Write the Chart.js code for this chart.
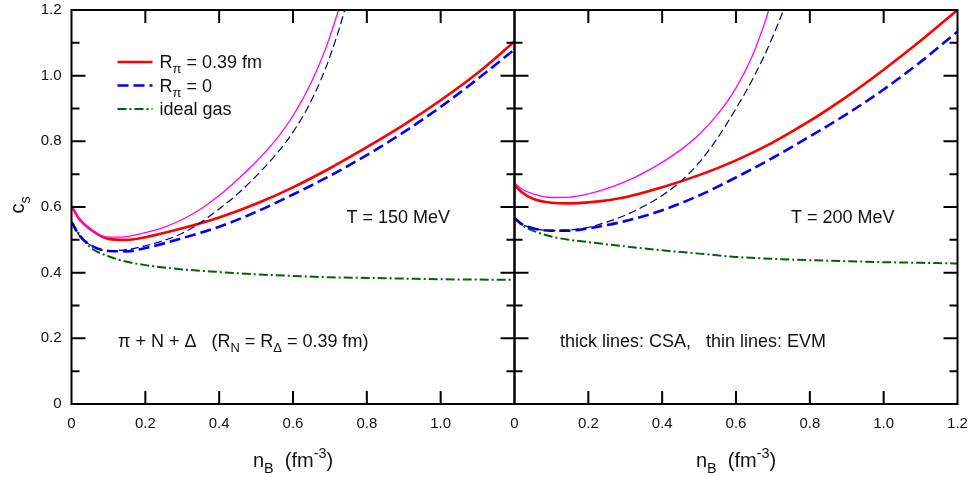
<!DOCTYPE html>
<html>
<head>
<meta charset="utf-8">
<script src="https://cdn.jsdelivr.net/npm/chart.js@4/dist/chart.umd.min.js"></script>
<style>
  html, body { margin: 0; padding: 0; background: #fff; }
  #wrap { position: relative; width: 972px; height: 477px; overflow: hidden; }
  canvas { position: absolute; top: 0; }
  #left { left: 0; }
  #right { left: 510px; }
</style>
</head>
<body>
<div id="wrap">
  <canvas id="left" width="520" height="477"></canvas>
  <canvas id="right" width="462" height="477"></canvas>
</div>
<script>
// Baryon density grids (fm^-3)
const nGrid  = [0, 0.02, 0.05, 0.1, 0.15, 0.2, 0.3, 0.4, 0.5, 0.6, 0.7, 0.8, 0.9, 1.0, 1.1, 1.2];
const nSteep = [0, 0.02, 0.05, 0.1, 0.15, 0.2, 0.25, 0.3, 0.35, 0.4, 0.45, 0.5, 0.55, 0.6, 0.65, 0.7, 0.75, 0.8];

// Tick values
const xTicks = [0, 0.2, 0.4, 0.6, 0.8, 1.0, 1.2];
const yTicks = [0, 0.2, 0.4, 0.6, 0.8, 1.0, 1.2];
const yMinorTicks = [0.1, 0.3, 0.5, 0.7, 0.9, 1.1];

// Speed of sound, T = 150 MeV
const csaR039_T150 = [0.603, 0.565, 0.533, 0.503, 0.500, 0.508, 0.535, 0.568, 0.61, 0.66, 0.718, 0.782, 0.85, 0.925, 1.008, 1.104];
const csaR0_T150   = [0.555, 0.515, 0.485, 0.466, 0.465, 0.475, 0.505, 0.54, 0.585, 0.638, 0.695, 0.758, 0.828, 0.905, 0.99, 1.08];
const ideal_T150   = [0.555, 0.52, 0.478, 0.45, 0.433, 0.423, 0.41, 0.402, 0.395, 0.39, 0.386, 0.384, 0.382, 0.38, 0.379, 0.378];
const evmR039_T150 = [0.603, 0.565, 0.533, 0.508, 0.51, 0.522, 0.538, 0.562, 0.594, 0.635, 0.684, 0.738, 0.8, 0.878, 0.981, 1.119, 1.312, 1.60];
const evmR0_T150   = [0.555, 0.515, 0.485, 0.467, 0.47, 0.482, 0.498, 0.52, 0.553, 0.594, 0.64, 0.694, 0.755, 0.828, 0.925, 1.058, 1.245, 1.525];

// Speed of sound, T = 200 MeV
const csaR039_T200 = [0.667, 0.645, 0.625, 0.613, 0.611, 0.614, 0.63, 0.66, 0.697, 0.742, 0.797, 0.862, 0.936, 1.018, 1.106, 1.2];
const csaR0_T200   = [0.566, 0.548, 0.535, 0.528, 0.528, 0.535, 0.557, 0.59, 0.635, 0.69, 0.75, 0.815, 0.883, 0.958, 1.042, 1.134];
const ideal_T200   = [0.566, 0.545, 0.528, 0.51, 0.50, 0.493, 0.48, 0.468, 0.458, 0.448, 0.442, 0.438, 0.435, 0.432, 0.43, 0.428];
const evmR039_T200 = [0.674, 0.655, 0.64, 0.629, 0.63, 0.64, 0.656, 0.677, 0.704, 0.736, 0.774, 0.821, 0.882, 0.963, 1.076, 1.246, 1.53, 2.1];
const evmR0_T200   = [0.566, 0.548, 0.535, 0.528, 0.53, 0.538, 0.554, 0.575, 0.602, 0.635, 0.678, 0.735, 0.81, 0.9, 1.0, 1.12, 1.268, 1.46];

const FONT = '"Liberation Sans", Arial, sans-serif';
const INK = '#111';

const STYLE = {
  csa039: { color: '#ff0000', width: 2.6, dash: [] },
  csa0:   { color: '#0000ff', width: 2.6, dash: [11, 5] },
  ideal:  { color: '#006400', width: 2.0, dash: [9, 3, 2, 3] },
  evm039: { color: '#ff00ff', width: 1.3, dash: [] },
  evm0:   { color: '#000080', width: 1.2, dash: [8, 4] }
};

function pts(xs, ys) { return xs.map((x, i) => ({ x: x, y: ys[i] })); }

function ds(label, xs, ys, st) {
  return {
    label: label, data: pts(xs, ys),
    borderColor: st.color, borderWidth: st.width, borderDash: st.dash,
    pointRadius: 0, fill: false, cubicInterpolationMode: 'monotone', clip: 0
  };
}

// Draw a string made of plain / subscript / superscript pieces
function richText(ctx, parts, x, y, size, align) {
  ctx.save();
  ctx.fillStyle = INK;
  ctx.textBaseline = 'alphabetic';
  const items = parts.map(p => Array.isArray(p) ? { t: p[0], s: p[1] } : { t: p, s: null });
  const widths = items.map(it => {
    ctx.font = (it.s ? size * 0.72 : size) + 'px ' + FONT;
    return ctx.measureText(it.t).width;
  });
  const total = widths.reduce((a, b) => a + b, 0);
  let cx = align === 'center' ? x - total / 2 : align === 'right' ? x - total : x;
  items.forEach((it, i) => {
    ctx.font = (it.s ? size * 0.72 : size) + 'px ' + FONT;
    const dy = it.s === 'sub' ? size * 0.28 : it.s === 'sup' ? -size * 0.45 : 0;
    ctx.fillText(it.t, cx, y + dy);
    cx += widths[i];
  });
  ctx.restore();
}

// Frame with inward ticks on all four sides, plus titles and notes
const framePlugin = {
  id: 'frame',
  afterDraw(chart) {
    const { ctx, chartArea: a, scales: { x, y } } = chart;
    ctx.save();
    ctx.strokeStyle = '#000';
    ctx.lineWidth = 2;
    ctx.beginPath();
    xTicks.forEach(v => {
      const px = x.getPixelForValue(v);
      if (px <= a.left + 1 || px >= a.right - 1) return;
      ctx.moveTo(px, a.bottom); ctx.lineTo(px, a.bottom - 13);
      ctx.moveTo(px, a.top); ctx.lineTo(px, a.top + 13);
    });
    yTicks.concat(yMinorTicks).forEach(v => {
      const py = y.getPixelForValue(v);
      if (py <= a.top + 1 || py >= a.bottom - 1) return;
      const len = yMinorTicks.includes(v) ? 8 : 14;
      ctx.moveTo(a.left, py); ctx.lineTo(a.left + len, py);
      ctx.moveTo(a.right, py); ctx.lineTo(a.right - len, py);
    });
    ctx.stroke();
    ctx.strokeRect(a.left, a.top, a.right - a.left, a.bottom - a.top);
    ctx.restore();

    const opts = chart.options.plugins.frame || {};
    const cxm = (a.left + a.right) / 2;
    richText(ctx, ['n', ['B', 'sub'], '  (fm', ['-3', 'sup'], ')'], cxm, 467, 20, 'center');
    (opts.notes || []).forEach(n => {
      richText(ctx, n.parts, x.getPixelForValue(n.x), y.getPixelForValue(n.y), n.size, n.align);
    });
    if (opts.yTitle) {
      ctx.save();
      ctx.translate(24, 205);
      ctx.rotate(-Math.PI / 2);
      richText(ctx, ['c', ['s', 'sub']], 0, 0, 20, 'center');
      ctx.restore();
    }
    if (opts.legend) {
      const rows = [
        { st: STYLE.csa039, parts: ['R', ['\u03c0', 'sub'], ' = 0.39 fm'] },
        { st: STYLE.csa0,   parts: ['R', ['\u03c0', 'sub'], ' = 0'] },
        { st: STYLE.ideal,  parts: ['ideal gas'] }
      ];
      rows.forEach((r, i) => {
        const ly = a.top + 52 + i * 23.5;
        ctx.save();
        ctx.strokeStyle = r.st.color;
        ctx.lineWidth = r.st.width;
        ctx.setLineDash(r.st.dash);
        ctx.beginPath();
        ctx.moveTo(a.left + 46, ly);
        ctx.lineTo(a.left + 81, ly);
        ctx.stroke();
        ctx.restore();
        richText(ctx, r.parts, a.left + 88, ly + 6, 18, 'left');
      });
    }
  }
};

function fmt(v) { return v === 0 ? '0' : v.toFixed(1); }

function panel(id, sets, cfg) {
  return new Chart(document.getElementById(id), {
    type: 'line',
    data: { datasets: sets },
    plugins: [framePlugin],
    options: {
      responsive: false,
      animation: false,
      devicePixelRatio: 1,
      layout: { padding: cfg.padding },
      plugins: {
        legend: { display: false },
        tooltip: { enabled: false },
        frame: cfg.frame
      },
      scales: {
        x: {
          type: 'linear', min: 0, max: 1.2,
          grid: { display: false, drawTicks: false },
          border: { display: false },
          afterBuildTicks: s => { s.ticks = xTicks.map(v => ({ value: v })); },
          afterFit: s => {
            s.height = 73;
            s.paddingLeft = 0; s.paddingRight = 0; s.paddingTop = 0; s.paddingBottom = 0;
          },
          ticks: {
            padding: 11, color: INK, maxRotation: 0, autoSkip: false,
            font: { family: FONT, size: 15 },
            callback: v => (cfg.hideLastX && v === 1.2) ? '' : fmt(v)
          }
        },
        y: {
          type: 'linear', min: 0, max: 1.2,
          display: cfg.showY,
          grid: { display: false, drawTicks: false },
          border: { display: false },
          afterBuildTicks: s => { s.ticks = yTicks.map(v => ({ value: v })); },
          afterFit: s => {
            s.width = cfg.showY ? 71.5 : 0;
            s.paddingLeft = 0; s.paddingRight = 0; s.paddingTop = 0; s.paddingBottom = 0;
          },
          ticks: {
            padding: 10, color: INK, autoSkip: false,
            font: { family: FONT, size: 15 },
            callback: v => fmt(v)
          }
        }
      }
    }
  });
}

panel('left', [
  ds('EVM R=0.39', nSteep, evmR039_T150, STYLE.evm039),
  ds('EVM R=0', nSteep, evmR0_T150, STYLE.evm0),
  ds('CSA R=0.39', nGrid, csaR039_T150, STYLE.csa039),
  ds('CSA R=0', nGrid, csaR0_T150, STYLE.csa0),
  ds('ideal gas', nGrid, ideal_T150, STYLE.ideal)
], {
  padding: { top: 10, right: 5.5, left: 0, bottom: 0 },
  showY: true,
  hideLastX: true,
  frame: {
    yTitle: true,
    legend: true,
    notes: [
      { parts: ['T = 150 MeV'], x: 0.885, y: 0.551, size: 18, align: 'center' },
      { parts: ['\u03c0 + N + \u0394   (R', ['N', 'sub'], ' = R', ['\u0394', 'sub'], ' = 0.39 fm)'], x: 0.126, y: 0.174, size: 18, align: 'left' }
    ]
  }
});

panel('right', [
  ds('EVM R=0.39', nSteep, evmR039_T200, STYLE.evm039),
  ds('EVM R=0', nSteep, evmR0_T200, STYLE.evm0),
  ds('CSA R=0.39', nGrid, csaR039_T200, STYLE.csa039),
  ds('CSA R=0', nGrid, csaR0_T200, STYLE.csa0),
  ds('ideal gas', nGrid, ideal_T200, STYLE.ideal)
], {
  padding: { top: 10, right: 14.5, left: 4.5, bottom: 0 },
  showY: false,
  hideLastX: false,
  frame: {
    notes: [
      { parts: ['T = 200 MeV'], x: 0.889, y: 0.551, size: 18, align: 'center' },
      { parts: ['thick lines: CSA,   thin lines: EVM'], x: 0.123, y: 0.174, size: 18, align: 'left' }
    ]
  }
});
</script>
</body>
</html>
